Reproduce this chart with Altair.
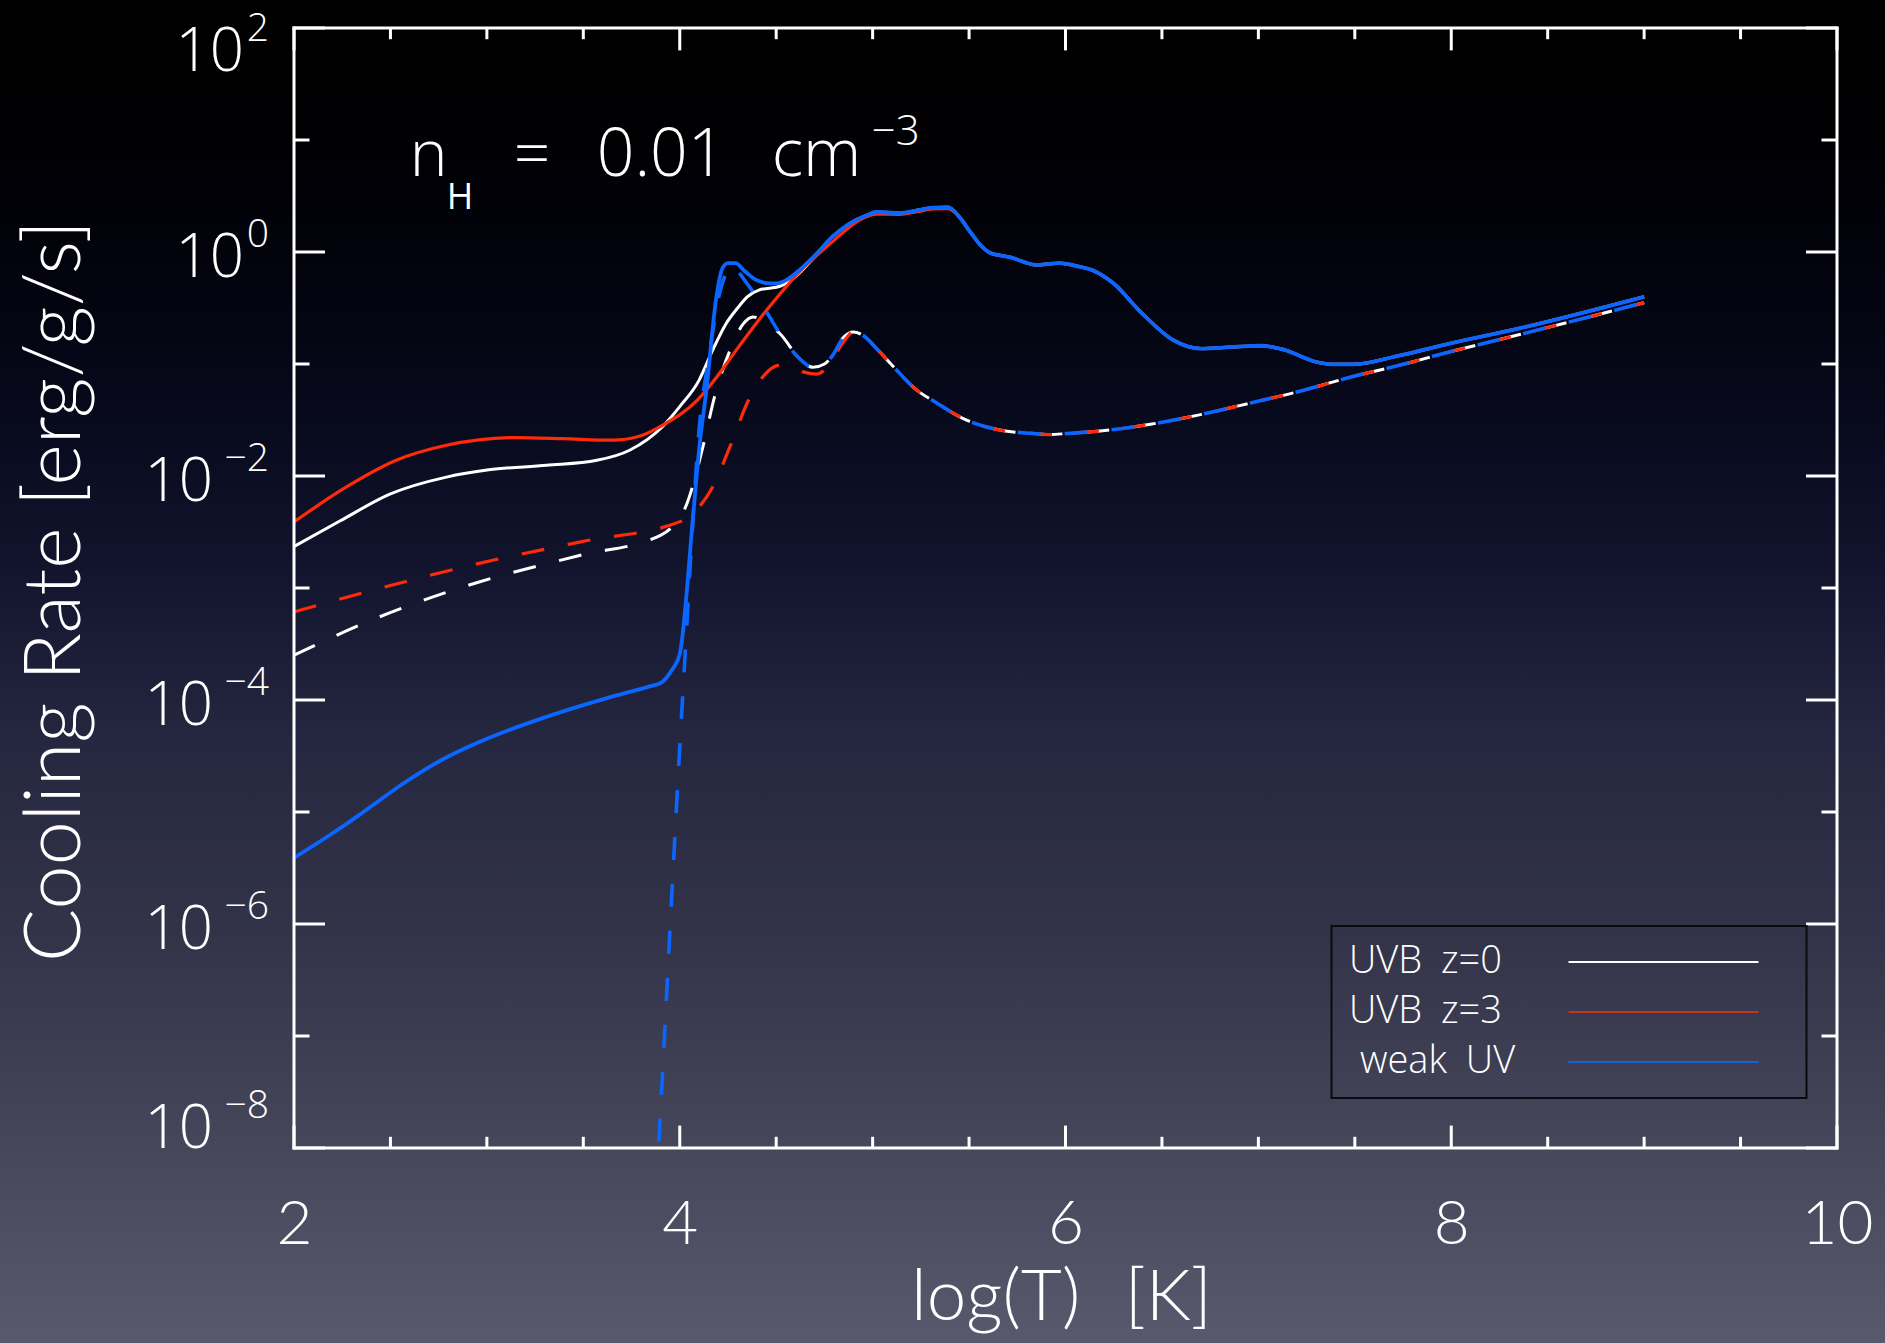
import altair as alt
import pandas as pd

# ---------------- data (log10 of cooling rate) ----------------
# weak UV, total cooling (solid blue), below the shared high-T part
BLUE_SOLID_X = [2.00, 2.20, 2.36, 2.58, 2.76, 2.96, 3.31, 3.65, 3.84, 3.90, 3.96, 4.00,
                4.07, 4.10, 4.14, 4.19, 4.22, 4.25, 4.29, 4.33, 4.40, 4.47, 4.50, 4.55,
                4.62, 4.71, 4.79, 4.88, 4.97, 5.02, 5.14, 5.23, 5.31, 5.39]
BLUE_SOLID_LOG = [-5.41, -5.19, -5.00, -4.73, -4.54, -4.375, -4.15, -3.97, -3.88, -3.85, -3.73, -3.59,
                  -2.34, -1.77, -1.205, -0.40, -0.15, -0.10, -0.10, -0.16, -0.253, -0.28, -0.28, -0.253,
                  -0.163, -0.014, 0.134, 0.253, 0.328, 0.357, 0.348, 0.372, 0.396, 0.40]

# UVB z=0, total cooling (solid white)
WHITE_SOLID_X = [2.00, 2.24, 2.50, 2.79, 3.01, 3.31, 3.57, 3.74, 3.91, 4.00, 4.10, 4.17,
                 4.24, 4.30, 4.35, 4.41, 4.52, 4.60, 4.68, 4.79, 4.88, 4.97, 5.02, 5.14,
                 5.23, 5.31, 5.39]
WHITE_SOLID_LOG = [-2.63, -2.40, -2.16, -2.01, -1.945, -1.905, -1.86, -1.77, -1.56, -1.38, -1.146, -0.878,
                   -0.64, -0.50, -0.40, -0.34, -0.306, -0.22, -0.08, 0.134, 0.253, 0.328, 0.357, 0.348,
                   0.372, 0.396, 0.40]

# UVB z=3, total cooling (solid red)
RED_SOLID_X = [2.00, 2.27, 2.53, 2.79, 3.14, 3.39, 3.65, 3.79, 3.91, 4.09, 4.19, 4.28,
               4.45, 4.62, 4.80, 4.93, 5.02, 5.14, 5.23, 5.31, 5.39]
RED_SOLID_LOG = [-2.41, -2.10, -1.86, -1.726, -1.657, -1.666, -1.68, -1.645, -1.547, -1.324, -1.12, -0.907,
                 -0.52, -0.179, 0.104, 0.283, 0.338, 0.336, 0.360, 0.384, 0.388]

# high-temperature part where the three solid curves coincide
SOLID_TAIL_X = [5.45, 5.50, 5.56, 5.61, 5.71, 5.85, 5.97, 6.07, 6.14, 6.25, 6.39, 6.56,
                6.70, 6.87, 7.01, 7.13, 7.30, 7.39, 7.49, 7.73, 7.99, 8.36, 9.00]
SOLID_TAIL_LOG = [0.313, 0.194, 0.06, -0.009, -0.045, -0.115, -0.10, -0.13, -0.163, -0.282, -0.536, -0.788,
                  -0.862, -0.848, -0.836, -0.871, -0.982, -1.003, -1.003, -0.925, -0.818, -0.679, -0.40]

# dashed curves
WHITE_DASHED_X = [2.00, 2.44, 2.96, 3.48, 3.90, 3.96, 4.03, 4.12, 4.18, 4.26, 4.33, 4.38,
                  4.45, 4.52, 4.62, 4.69, 4.75, 4.79, 4.85]
WHITE_DASHED_LOG = [-3.60, -3.26, -2.946, -2.71, -2.53, -2.455, -2.277, -1.74, -1.295, -0.88, -0.64, -0.58,
                    -0.64, -0.73, -0.95, -1.03, -1.00, -0.93, -0.76]

RED_DASHED_X = [2.00, 2.44, 2.96, 3.48, 4.02, 4.10, 4.17, 4.26, 4.36, 4.43, 4.52, 4.58,
                4.64, 4.71, 4.76, 4.85]
RED_DASHED_LOG = [-3.214, -3.005, -2.78, -2.59, -2.395, -2.277, -2.10, -1.74, -1.31, -1.116, -1.01, -1.03,
                  -1.07, -1.09, -1.04, -0.80]

BLUE_DASHED_X = [3.85, 3.89, 3.96, 4.00, 4.03, 4.06, 4.10, 4.15, 4.20, 4.25, 4.28, 4.31,
                 4.38, 4.45, 4.52, 4.62, 4.69, 4.75, 4.79, 4.85]
BLUE_DASHED_LOG = [-9.2, -8.0, -5.70, -4.42, -3.53, -2.63, -1.59, -0.95, -0.42, -0.16, -0.12, -0.19,
                   -0.357, -0.536, -0.73, -0.95, -1.03, -1.00, -0.93, -0.76]

# high-temperature part where the three dashed curves coincide
DASHED_TAIL_X = [4.90, 4.95, 5.03, 5.11, 5.23, 5.31, 5.49, 5.66, 5.83, 5.92, 6.01, 6.18,
                 6.44, 6.70, 6.96, 7.22, 7.48, 7.73, 7.99, 8.36, 9.00]
DASHED_TAIL_LOG = [-0.714, -0.744, -0.88, -1.027, -1.235, -1.324, -1.503, -1.59, -1.62, -1.63, -1.62, -1.598,
                   -1.538, -1.452, -1.348, -1.241, -1.116, -1.012, -0.893, -0.735, -0.452]

# axes / ticks
X_LABELS = [2, 4, 6, 8, 10]
X_MINOR = [2.5, 3, 3.5, 4.5, 5, 5.5, 6.5, 7, 7.5, 8.5, 9, 9.5]
Y_MAJOR_EXP = [2, 0, -2, -4, -6, -8]
Y_MINOR_EXP = [1, -1, -3, -5, -7]

LEGEND_LABELS = ["UVB\u2002z=0", "UVB\u2002z=3", "weak\u2002UV"]
LEGEND_COLORS = ["#ffffff", "#c8321e", "#1a60d8"]

ANNOT_X = 2.60          # anchor of the "n_H = 0.01 cm^-3" note (data coords)
ANNOT_LOGY = 0.676

# ---------------- styling ----------------
W, H = 1543, 1120
PAD = {"left": 294, "top": 28, "right": 48, "bottom": 195}
WHITE = "#ffffff"
RED = "#ff2a0a"
BLUE = "#0a66ff"
IDL_FONT = "Open Sans"
TITLE_FONT = "Lato"
DASH = [23, 24]

BG_STOPS = [(0.00, "#000000"), (0.10, "#000003"), (0.22, "#03040f"), (0.32, "#080a1e"),
            (0.42, "#12142d"), (0.55, "#252740"), (0.70, "#333449"), (0.85, "#45465a"),
            (1.00, "#58596c")]

xs = alt.Scale(domain=[2, 10], nice=False, zero=False)
ys = alt.Scale(type="log", domain=[1e-8, 1e2], nice=False)

x_axis = alt.Axis(values=X_LABELS, format="d", labelFont=TITLE_FONT, labelFontWeight=300,
                  labelFontSize=62, labelColor=WHITE, labelPadding=95, labelBaseline="alphabetic",
                  ticks=False, tickSize=0, domain=False, grid=False, labelFlush=False,
                  labelOverlap=False, title=None, zindex=2)

one = pd.DataFrame({"k": [0]})


def series_df(xv, lv):
    return pd.DataFrame({"T": xv, "rate": [10.0 ** v for v in lv]})


def line_layer(xv, lv, color, width, dashed):
    kw = dict(color=color, strokeWidth=width, interpolate="monotone", clip=True)
    if dashed:
        kw["strokeDash"] = DASH
    return alt.Chart(series_df(xv, lv)).mark_line(**kw).encode(
        x=alt.X("T:Q", scale=xs, axis=x_axis),
        y=alt.Y("rate:Q", scale=ys, axis=None),
        order=alt.Order("T:Q"),
    )


layers = []

# background gradient
grad = alt.LinearGradient(gradient="linear",
                          stops=[alt.GradientStop(color=c, offset=o) for o, c in BG_STOPS],
                          x1=0, x2=0, y1=0, y2=1)
layers.append(alt.Chart(one).mark_rect(color=grad).encode(
    x=alt.value(-PAD["left"]), x2=alt.value(W + PAD["right"]),
    y=alt.value(-PAD["top"]), y2=alt.value(H + PAD["bottom"])))

# curves
layers.append(line_layer(WHITE_DASHED_X + DASHED_TAIL_X, WHITE_DASHED_LOG + DASHED_TAIL_LOG, WHITE, 3.0, True))
layers.append(line_layer(WHITE_SOLID_X + SOLID_TAIL_X, WHITE_SOLID_LOG + SOLID_TAIL_LOG, WHITE, 3.0, False))
layers.append(line_layer(RED_DASHED_X + DASHED_TAIL_X, RED_DASHED_LOG + DASHED_TAIL_LOG, RED, 3.2, True))
layers.append(line_layer(RED_SOLID_X + SOLID_TAIL_X, RED_SOLID_LOG + SOLID_TAIL_LOG, RED, 3.2, False))
layers.append(line_layer(BLUE_DASHED_X + DASHED_TAIL_X, BLUE_DASHED_LOG + DASHED_TAIL_LOG, BLUE, 3.6, True))
layers.append(line_layer(BLUE_SOLID_X + SOLID_TAIL_X, BLUE_SOLID_LOG + SOLID_TAIL_LOG, BLUE, 3.8, False))

# ticks (IDL style, inward on all four sides)
ymaj = pd.DataFrame({"rate": [10.0 ** e for e in Y_MAJOR_EXP]})
ymin = pd.DataFrame({"rate": [10.0 ** e for e in Y_MINOR_EXP]})
xmaj = pd.DataFrame({"T": X_LABELS})
xmin = pd.DataFrame({"T": X_MINOR})
for df, ln in [(ymaj, 31), (ymin, 15.5)]:
    for x0, x1 in [(0, ln), (W - ln, W)]:
        layers.append(alt.Chart(df).mark_rule(color=WHITE, strokeWidth=3).encode(
            y=alt.Y("rate:Q", scale=ys, axis=None), x=alt.value(x0), x2=alt.value(x1)))
for df, ln in [(xmaj, 22.4), (xmin, 11.2)]:
    for y0, y1 in [(H - ln, H), (0, ln)]:
        layers.append(alt.Chart(df).mark_rule(color=WHITE, strokeWidth=3).encode(
            x=alt.X("T:Q", scale=xs, axis=x_axis), y=alt.value(y0), y2=alt.value(y1)))

# frame
for enc in [dict(x=alt.value(0), x2=alt.value(W), y=alt.value(0)),
            dict(x=alt.value(0), x2=alt.value(W), y=alt.value(H)),
            dict(x=alt.value(0), y=alt.value(0), y2=alt.value(H)),
            dict(x=alt.value(W), y=alt.value(0), y2=alt.value(H))]:
    layers.append(alt.Chart(one).mark_rule(color=WHITE, strokeWidth=3, strokeCap="square").encode(**enc))

# y tick labels 10^e
top_e, bot_e = max(Y_MAJOR_EXP), min(Y_MAJOR_EXP)
for e in Y_MAJOR_EXP:
    base_dy = 43 if e == top_e else (0 if e == bot_e else 25)
    base_x = -81 if e < 0 else -50
    exp_txt = ("\u2212" + str(-e)) if e < 0 else str(e)
    ydat = alt.YDatum(10.0 ** e, type="quantitative", scale=ys, axis=None)
    layers.append(alt.Chart(one).mark_text(text="10", font=IDL_FONT, fontWeight=300, fontSize=60,
                                           color=WHITE, align="right", baseline="alphabetic",
                                           dy=base_dy).encode(y=ydat, x=alt.value(base_x)))
    layers.append(alt.Chart(one).mark_text(text=exp_txt, font=IDL_FONT, fontWeight=300, fontSize=39,
                                           color=WHITE, align="right", baseline="alphabetic",
                                           dy=base_dy - 30).encode(y=ydat, x=alt.value(-25)))

# axis titles
layers.append(alt.Chart(one).mark_text(text="Cooling Rate [erg/g/s]", font=TITLE_FONT, fontWeight=300,
                                       fontSize=79, color=WHITE, angle=270, align="center",
                                       baseline="middle").encode(x=alt.value(-238), y=alt.value(563)))
layers.append(alt.Chart(one).mark_text(text="log(T)\u2002\u2009[K]", font=TITLE_FONT, fontWeight=300,
                                       fontSize=71, color=WHITE, align="center",
                                       baseline="alphabetic").encode(x=alt.value(W / 2 - 4), y=alt.value(1292)))

# annotation n_H = 0.01 cm^-3
ax = alt.XDatum(ANNOT_X, type="quantitative", scale=xs, axis=x_axis)
ay = alt.YDatum(10.0 ** ANNOT_LOGY, type="quantitative", scale=ys, axis=None)
for txt, size, wt, dx, dy in [("n", 64, 300, 0, 0), ("H", 36, "normal", 37, 33), ("=", 64, 300, 104, 0),
                              ("0.01", 66, 300, 187, 0), ("cm", 66, 300, 362, 0),
                              ("\u22123", 42, 300, 462, -31)]:
    layers.append(alt.Chart(one).mark_text(text=txt, font=IDL_FONT, fontWeight=wt, fontSize=size,
                                           color=WHITE, align="left", baseline="alphabetic",
                                           dx=dx, dy=dy).encode(x=ax, y=ay))

# legend (manual, IDL style)
layers.append(alt.Chart(one).mark_rect(filled=False, color="#0a0a0e", strokeWidth=2).encode(
    x=alt.value(1037.5), x2=alt.value(1512.5), y=alt.value(898), y2=alt.value(1070)))
for i, (lab, col) in enumerate(zip(LEGEND_LABELS, LEGEND_COLORS)):
    yy = 934 + 50 * i
    tx = 1066 if i == 2 else 1055
    layers.append(alt.Chart(one).mark_text(text=lab, font=IDL_FONT, fontWeight=300, fontSize=38,
                                           color=WHITE, align="left", baseline="middle").encode(
        x=alt.value(tx), y=alt.value(yy)))
    layers.append(alt.Chart(one).mark_rule(color=col, strokeWidth=2).encode(
        x=alt.value(1274.5), x2=alt.value(1464.5), y=alt.value(yy)))

chart = alt.layer(*layers).properties(
    width=W, height=H, padding=PAD, autosize=alt.AutoSizeParams(type="none")
).configure(background="#2a2b40").configure_view(strokeWidth=0)

chart.save("out.html", embed_options={"renderer": "svg", "actions": False})
